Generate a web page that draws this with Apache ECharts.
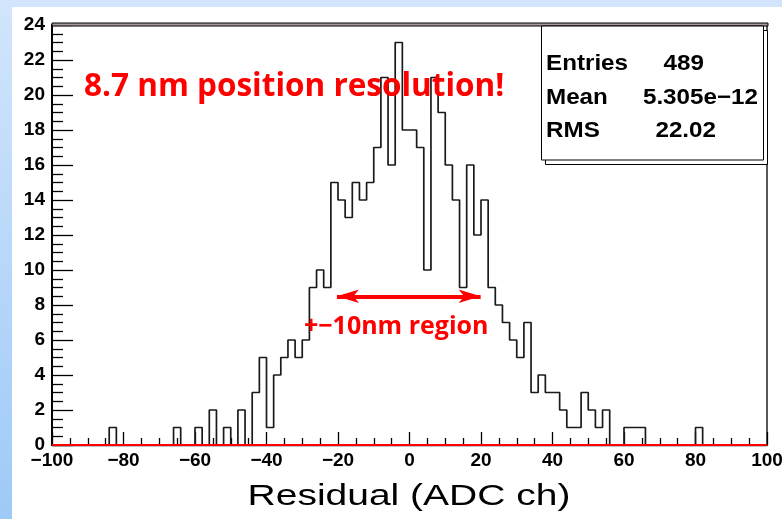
<!DOCTYPE html>
<html>
<head>
<meta charset="utf-8">
<script src="https://cdn.jsdelivr.net/npm/echarts/dist/echarts.min.js"></script>
<style>
  html, body { margin: 0; padding: 0; background: #fff; }
  #chart { width: 782px; height: 519px; }
</style>
</head>
<body>
<div id="chart"></div>
<script>
// ---- Data ----
const xMin = -100;
const xMax = 100;
const binWidth = 2;
// Counts per 2-ADC bin, starting at -100 (100 bins)
const counts = [
  0, 0, 0, 0, 0, 0, 0, 0, 1, 0,      // -100 .. -82
  0, 0, 0, 0, 0, 0, 0, 1, 0, 0,      // -80 .. -62
  1, 0, 2, 0, 1, 0, 2, 0, 3, 5,      // -60 .. -42
  1, 4, 5, 6, 5, 6, 9, 10, 9, 15,    // -40 .. -22
  14, 13, 15, 14, 15, 17, 21, 16, 23, 18, // -20 .. -2
  18, 17, 10, 21, 19, 16, 14, 9, 16, 12,  // 0 .. 18
  14, 9, 8, 7, 6, 5, 7, 3, 4, 3,     // 20 .. 38
  3, 2, 1, 1, 3, 2, 1, 2, 0, 0,      // 40 .. 58
  1, 1, 1, 0, 0, 0, 0, 0, 0, 0,      // 60 .. 78
  1, 0, 0, 0, 0, 0, 0, 0, 0, 0       // 80 .. 98
];
const yMin = 0, yMax = 24, yStep = 2;
const xStep = 20;
const statsLabels = ['Entries', 'Mean', 'RMS'];
const statsValues = ['489', '5.305e\u221212', '22.02'];
const titleText = '8.7 nm position resolution!';
const regionText = '+\u221210nm region';
const arrowSpan = [-20.3, 19.9];   // arrow tips (±10 nm ≈ ±20 ADC)
const arrowLevel = 8.5;
const xTitle = 'Residual (ADC ch)';

// Histogram outline points (left bin edges + closing right edge)
const histPoints = counts.map((c, i) => [xMin + i * binWidth, c]);
histPoints.push([xMax, counts[counts.length - 1]]);

const chart = echarts.init(document.getElementById('chart'), null, { renderer: 'canvas' });

const labelFont = { fontFamily: '"Liberation Sans", Arial, sans-serif', fontWeight: 'bold', fontSize: 19, color: '#000' };
const statFont = { fill: '#000', fontFamily: '"Liberation Sans", Arial', fontWeight: 'bold', fontSize: 22, verticalAlign: 'middle' };

const option = {
  animation: false,
  backgroundColor: {
    type: 'linear', x: 0, y: 0, x2: 0, y2: 1,
    colorStops: [{ offset: 0, color: '#d2e5fc' }, { offset: 1, color: '#9ecaf7' }]
  },
  grid: { left: 52, right: 15, top: 25, bottom: 74, containLabel: false, outerBoundsMode: 'none',
          show: true, borderColor: '#000', borderWidth: 1.3, backgroundColor: 'transparent' },
  xAxis: {
    type: 'value', min: xMin, max: xMax, interval: xStep,
    axisLine: { show: true, onZero: false, lineStyle: { color: '#000', width: 1.3 } },
    axisTick: { show: true, inside: true, length: 13, lineStyle: { color: '#000', width: 1.3 } },
    minorTick: { show: true, splitNumber: 4, length: 7, lineStyle: { color: '#000', width: 1.3 } },
    splitLine: { show: false },
    axisLabel: Object.assign({ margin: 6, showMinLabel: true, showMaxLabel: true,
      formatter: v => String(v).replace('-', '\u2212') }, labelFont)
  },
  yAxis: {
    type: 'value', min: yMin, max: yMax, interval: yStep,
    axisLine: { show: true, onZero: false, lineStyle: { color: '#000', width: 2 } },
    axisTick: { show: true, inside: true, length: 21, lineStyle: { color: '#000', width: 1.3 } },
    minorTick: { show: true, splitNumber: 4, length: 11, lineStyle: { color: '#000', width: 1.3 } },
    splitLine: { show: false },
    axisLabel: Object.assign({ margin: 7, showMinLabel: true, showMaxLabel: true }, labelFont)
  },
  series: [
    {
      type: 'line', step: 'end', data: histPoints, symbol: 'none', z: 3,
      lineStyle: { color: '#1a1a1a', width: 1.7 },
      markLine: {
        silent: true, symbol: ['arrow', 'arrow'], symbolSize: [10, 22], z: 6,
        label: { show: false },
        lineStyle: { color: '#ff0000', width: 4, type: 'solid' },
        data: [[{ coord: [arrowSpan[0], arrowLevel] }, { coord: [arrowSpan[1], arrowLevel] }]]
      }
    },
    {
      type: 'line', data: [[xMin, 0], [xMax, 0]], symbol: 'none', z: 5,
      lineStyle: { color: '#ff0000', width: 2 }
    }
  ],
  graphic: [
    { type: 'rect', z: -10, silent: true, shape: { x: 12, y: 7, width: 770, height: 512 }, style: { fill: '#ffffff' } },
    { type: 'rect', z: 10, silent: true, shape: { x: 52, y: 23, width: 716, height: 3 }, style: { fill: '#a89a9a', stroke: '#000', lineWidth: 1 } },
    { type: 'rect', z: 10, silent: true, shape: { x: 545.5, y: 30.5, width: 222, height: 134 }, style: { fill: '#fff', stroke: '#000', lineWidth: 1 } },
    { type: 'rect', z: 11, silent: true, shape: { x: 541.5, y: 26, width: 222, height: 134 }, style: { fill: '#fff', stroke: '#000', lineWidth: 1 } },
    { type: 'text', z: 12, x: 546, y: 64, scaleX: 1.1, style: Object.assign({ text: statsLabels[0] }, statFont) },
    { type: 'text', z: 12, x: 546, y: 98, scaleX: 1.1, style: Object.assign({ text: statsLabels[1] }, statFont) },
    { type: 'text', z: 12, x: 546, y: 131, scaleX: 1.1, style: Object.assign({ text: statsLabels[2] }, statFont) },
    { type: 'text', z: 12, x: 704, y: 64, scaleX: 1.1, style: Object.assign({ text: statsValues[0], align: 'right' }, statFont) },
    { type: 'text', z: 12, x: 758, y: 98, scaleX: 1.1, style: Object.assign({ text: statsValues[1], align: 'right' }, statFont) },
    { type: 'text', z: 12, x: 716, y: 131, scaleX: 1.1, style: Object.assign({ text: statsValues[2], align: 'right' }, statFont) },
    { type: 'text', z: 12, x: 84, y: 87, style: { text: titleText, fill: '#ff0000', fontFamily: '"Open Sans", sans-serif', fontWeight: 'bold', fontSize: 31.5, verticalAlign: 'middle' } },
    { type: 'text', z: 12, x: 304, y: 327, style: { text: regionText, fill: '#ff0000', fontFamily: '"Open Sans", sans-serif', fontWeight: 'bold', fontSize: 25, verticalAlign: 'middle' } },
    { type: 'text', z: 12, x: 409, y: 497, scaleX: 1.3, style: { text: xTitle, fill: '#000', fontFamily: '"Liberation Sans", Arial', fontSize: 30, verticalAlign: 'middle', align: 'center' } }
  ]
};
chart.setOption(option);
</script>
</body>
</html>
